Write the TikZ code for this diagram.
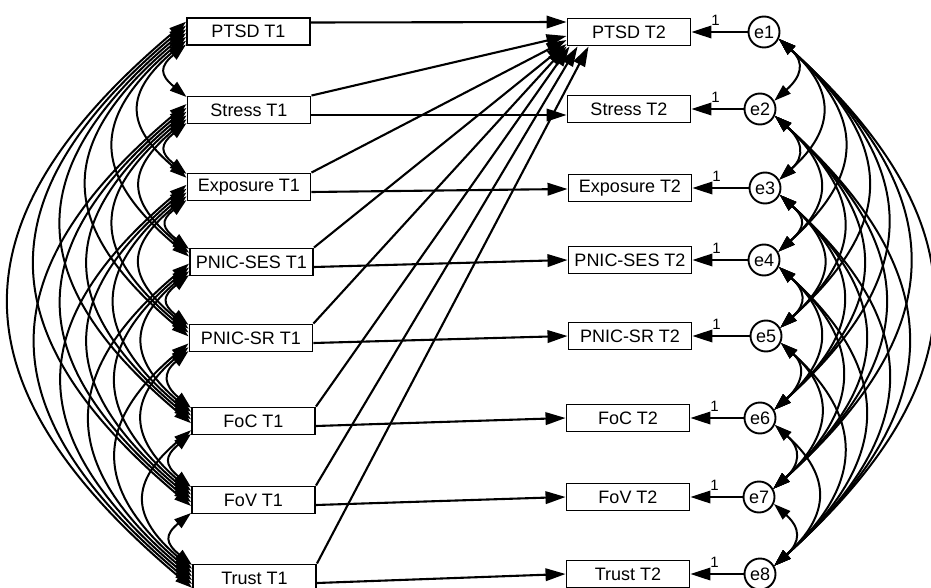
\documentclass[tikz,border=0pt]{standalone}
\usepackage{fontspec}
\setmainfont{Liberation Sans}
\usetikzlibrary{arrows.meta,calc}
\begin{document}
\begin{tikzpicture}[x=1pt,y=-1pt,
  box/.style={draw, line width=1.9pt, fill=white, minimum width=123pt, minimum height=27pt, inner sep=0pt, font=\fontsize{18}{20}\selectfont},
  err/.style={draw, circle, line width=1.9pt, fill=white, minimum size=31pt, inner sep=0pt, font=\fontsize{18}{20}\selectfont},
  reg/.style={line width=2.1pt, -{Triangle[length=20pt,width=12.5pt]}},
  cov/.style={line width=2pt, {Triangle[length=17pt,width=11pt]}-{Triangle[length=17pt,width=11pt]}},
  onelab/.style={font=\fontsize{15}{15}\selectfont, inner sep=0pt}]
\useasboundingbox (0,0) rectangle (931,588);
% T1 boxes
\node[box] (L1) at (248.5,31.5) {PTSD T1};
\node[box] (L2) at (249,110) {Stress T1};
\node[box] (L3) at (249,187) {Exposure T1};
\node[box] (L4) at (251.5,262) {PNIC-SES T1};
\node[box] (L5) at (251,338) {PNIC-SR T1};
\node[box] (L6) at (253.5,421) {FoC T1};
\node[box] (L7) at (253.5,500) {FoV T1};
\node[box] (L8) at (254.5,578) {Trust T1};
% T2 boxes
\node[box] (R1) at (629,32) {PTSD T2};
\node[box] (R2) at (629,109) {Stress T2};
\node[box] (R3) at (630,188) {Exposure T2};
\node[box] (R4) at (630,260) {PNIC-SES T2};
\node[box] (R5) at (630,336) {PNIC-SR T2};
\node[box] (R6) at (628,418) {FoC T2};
\node[box] (R7) at (628,497) {FoV T2};
\node[box] (R8) at (628,574) {Trust T2};
% error terms
\node[err] (e1) at (764,32) {e1};
\node[err] (e2) at (760,109) {e2};
\node[err] (e3) at (765,188) {e3};
\node[err] (e4) at (764,260) {e4};
\node[err] (e5) at (766,336) {e5};
\node[err] (e6) at (760,418) {e6};
\node[err] (e7) at (759,497) {e7};
\node[err] (e8) at (760,574) {e8};
% regressions
\draw[reg] ([yshift=9pt]L1.east) -- ([yshift=10pt]R1.west);
\draw[reg] ([yshift=-5pt]L2.east) -- ([yshift=-6pt]R2.west);
\draw[reg] ([yshift=-5pt]L3.east) -- ([yshift=-1pt]R3.west);
\foreach \i in {4,...,8} \draw[reg] ([yshift=-5pt]L\i.east) -- (R\i.west);
\draw[reg] (L2.north east) -- ([yshift=-4pt]R1.west);
\draw[reg] (L3.north east) -- ([yshift=-8pt]R1.west);
\draw[reg] (L4.north east) -- ([yshift=-12pt]R1.west);
\draw[reg] (L5.north east) -- (R1.south west);
\draw[reg] (L6.north east) -- ([xshift=3pt]R1.south west);
\draw[reg] (L7.north east) -- ([xshift=11pt]R1.south west);
\draw[reg] (L8.north east) -- ([xshift=22pt]R1.south west);
\foreach \i in {1,...,8} {
  \draw[reg] (e\i) -- (R\i);
  \node[onelab] (n\i) at ([xshift=24pt,yshift=12pt]R\i.east) {1};
}
% covariances
\def\Ly{{31.5,110,187,262,338,421,500,578}}
\def\Ry{{32,109,188,260,336,418,497,574}}
\foreach \i in {1,...,7}{
  \pgfmathtruncatemacro\ii{\i+1}
  \foreach \j in {\ii,...,8}{
    \pgfmathsetmacro\k{\j-\i}
    \pgfmathsetmacro\off{13-(\k-1)*3.8}
    \pgfmathsetmacro\offA{-\off}
    \pgfmathsetmacro\s{20+26.5*(\k-1)}
    \pgfmathsetmacro\h{4*\s/3}
    \pgfmathsetmacro\c{\Ly[\j-1]-\Ly[\i-1]-2*\off}
    \pgfmathsetmacro\v{min(0.84*\h,0.42*\c)}
    \draw[cov] ([yshift=\offA pt]L\i.west) .. controls +(-\h,\v) and +(-\h,-\v) .. ([yshift=\off pt]L\j.west);
    \pgfmathsetmacro\sr{20+22.5*(\k-1)}
    \pgfmathsetmacro\hr{4*\sr/3}
    \pgfmathsetmacro\cr{\Ry[\j-1]-\Ry[\i-1]-14}
    \pgfmathsetmacro\vr{min(0.9*\hr,0.42*\cr)}
    \draw[cov] (e\i.-25) .. controls +(\hr,\vr) and +(\hr,-\vr) .. (e\j.30);
  }
}
\end{tikzpicture}
\end{document}
